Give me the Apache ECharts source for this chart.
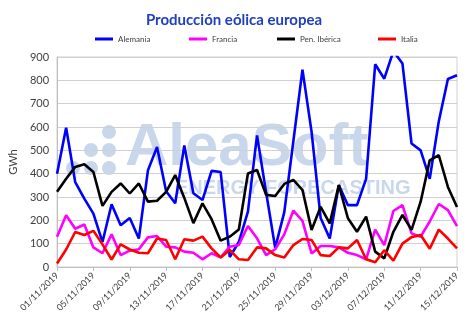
<!DOCTYPE html>
<html><head><meta charset="utf-8">
<script src="https://cdn.jsdelivr.net/npm/echarts@6/dist/echarts.min.js"></script>
<style>html,body{margin:0;padding:0;background:#fff}#c{width:468px;height:325px}</style>
</head><body><div id="c"></div>
<script>
const dates = ["01/11/2019","02/11/2019","03/11/2019","04/11/2019","05/11/2019","06/11/2019","07/11/2019","08/11/2019","09/11/2019","10/11/2019",
"11/11/2019","12/11/2019","13/11/2019","14/11/2019","15/11/2019","16/11/2019","17/11/2019","18/11/2019","19/11/2019","20/11/2019",
"21/11/2019","22/11/2019","23/11/2019","24/11/2019","25/11/2019","26/11/2019","27/11/2019","28/11/2019","29/11/2019","30/11/2019",
"01/12/2019","02/12/2019","03/12/2019","04/12/2019","05/12/2019","06/12/2019","07/12/2019","08/12/2019","09/12/2019","10/12/2019",
"11/12/2019","12/12/2019","13/12/2019","14/12/2019","15/12/2019"];
const alemania = [400,597,364,293,229,107,269,179,210,122,414,514,325,273,521,316,287,412,407,43,107,237,564,320,82,235,540,846,580,210,122,351,265,265,378,869,807,925,872,529,500,378,625,806,822];
const francia = [130,222,164,182,84,59,140,51,70,76,127,133,87,84,66,61,33,59,41,87,94,176,123,51,76,140,242,198,58,90,90,84,61,51,33,160,94,240,265,144,130,195,270,244,175];
const penIberica = [322,378,429,440,407,262,322,358,315,358,280,284,322,394,296,188,273,205,113,130,161,401,416,309,304,356,373,330,159,258,187,351,209,151,216,66,37,151,223,159,280,457,479,343,257];
const italia = [15,75,150,137,155,97,32,97,75,61,59,122,116,33,119,113,130,80,41,73,33,30,84,80,51,41,94,120,116,51,47,84,80,116,33,20,72,27,100,128,137,78,160,122,80];
const yTicks = [0,100,200,300,400,500,600,700,800,900];

const FONT = 'Lato, "Open Sans", sans-serif';
const wm = '#c9d7ec';
const chart = echarts.init(document.getElementById('c'), null, {renderer:'canvas'});
const mkLegend = (name, left) => ({
  data:[name], left:left, top:35, icon:'rect', itemWidth:18, itemHeight:3,
  textStyle:{fontFamily:FONT, fontSize:8, color:'#404040'}, itemGap:0, padding:0
});
const mkSeries = (name, data, color) => ({
  name, type:'line', data, symbol:'none', smooth:false, z:5,
  lineStyle:{color, width:2.6}, itemStyle:{color}
});
chart.setOption({
  animation:false,
  title:{text:'Producción eólica europea', left:'center', top:8,
    textStyle:{fontFamily:FONT, fontSize:15, fontWeight:'bold', color:'#2040c0'}},
  legend:[mkLegend('Alemania',95), mkLegend('Francia',189), mkLegend('Pen. Ibérica',277), mkLegend('Italia',378)],
  graphic:[
    {type:'circle', z:0, shape:{cx:109, cy:132, r:7}, style:{fill:wm}},
    {type:'circle', z:0, shape:{cx:91, cy:150, r:7}, style:{fill:wm}},
    {type:'circle', z:0, shape:{cx:109, cy:150, r:7}, style:{fill:wm}},
    {type:'circle', z:0, shape:{cx:73, cy:168, r:7}, style:{fill:wm}},
    {type:'circle', z:0, shape:{cx:91, cy:168, r:7}, style:{fill:wm}},
    {type:'circle', z:0, shape:{cx:109, cy:168, r:7}, style:{fill:wm}},
    {type:'text', z:0, left:125, top:118, style:{text:'AleaSoft', fill:wm, font:'bold 60px "Liberation Sans", Arial, sans-serif'}},
    {type:'text', z:0, left:175, top:178, style:{text:'ENERGY FORECASTING', fill:wm, font:'bold 20px "Liberation Sans", Arial, sans-serif'}}
  ],
  grid:{left:45, right:11, top:57, bottom:58, show:true, borderColor:'#d0d0d0', borderWidth:1, backgroundColor:'transparent'},
  xAxis:{type:'category', data:dates, boundaryGap:false,
    axisLine:{lineStyle:{color:'#bfbfbf'}},
    axisTick:{show:true, interval:3, length:4, lineStyle:{color:'#bfbfbf'}},
    axisLabel:{interval:3, rotate:45, margin:7, fontFamily:FONT, fontSize:9, color:'#404040'},
    splitLine:{show:false}},
  yAxis:{type:'value', min:yTicks[0], max:yTicks[yTicks.length-1], interval:100,
    name:'GWh', nameLocation:'middle', nameGap:30, nameRotate:90,
    nameTextStyle:{fontFamily:FONT, fontSize:11, color:'#404040'},
    axisLine:{show:true, lineStyle:{color:'#bfbfbf'}}, axisTick:{show:false},
    axisLabel:{fontFamily:FONT, fontSize:11, color:'#404040', margin:8},
    splitLine:{lineStyle:{color:'#d0d0d0', width:1}}},
  series:[
    mkSeries('Alemania', alemania, '#0000ff'),
    mkSeries('Francia', francia, '#ff00ff'),
    mkSeries('Pen. Ibérica', penIberica, '#000000'),
    mkSeries('Italia', italia, '#ff0000')
  ]
});
</script></body></html>
